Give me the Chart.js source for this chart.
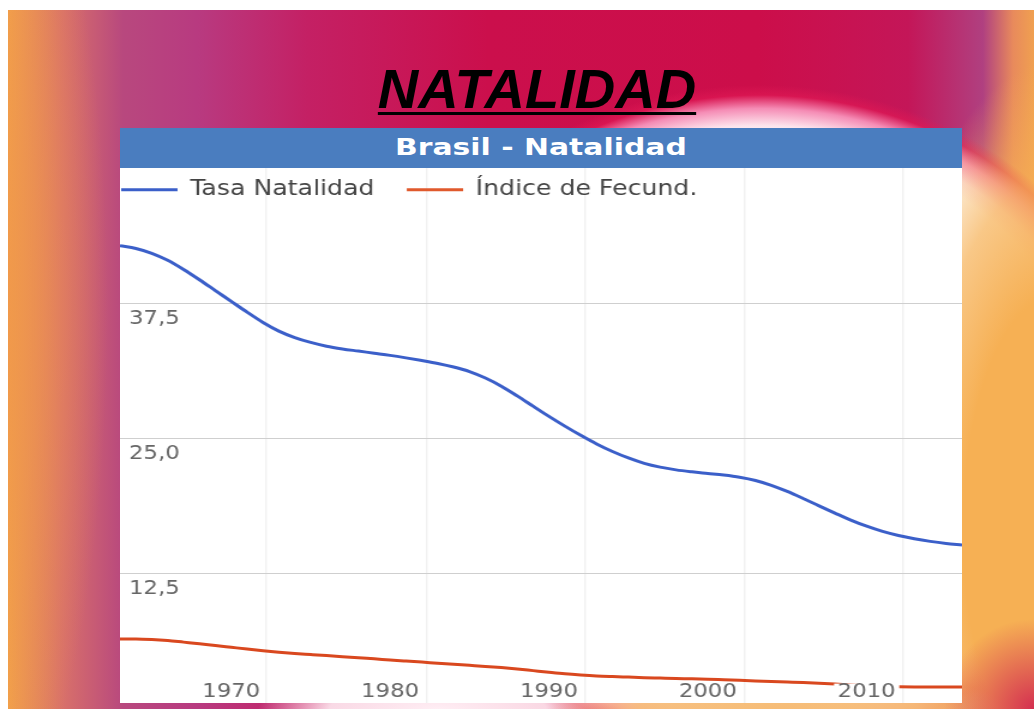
<!DOCTYPE html>
<html lang="es">
<head>
<meta charset="utf-8">
<title>Natalidad</title>
<script src="https://cdn.jsdelivr.net/npm/chart.js@4.4.1/dist/chart.umd.min.js"></script>
<style>
  html, body { margin: 0; padding: 0; background: #fff; }
  body { width: 1034px; height: 709px; position: relative; overflow: hidden; }
  #fondo {
    position: absolute; left: 8px; top: 10px; width: 1026px; height: 699px;
    background:
      radial-gradient(circle 90px at 1026px 699px, rgba(210,40,80,0.95) 0%, rgba(210,40,80,0) 100%),
      radial-gradient(ellipse 230px 40px at 770px 699px, rgba(246,188,118,1) 0%, rgba(246,188,118,0.9) 60%, rgba(246,188,118,0) 100%),
      radial-gradient(ellipse 180px 40px at 430px 699px, rgba(255,238,244,1) 0%, rgba(255,238,244,0.9) 60%, rgba(255,238,244,0) 100%),
      radial-gradient(ellipse 190px 470px at 1050px 520px, rgba(246,176,84,1) 0%, rgba(246,176,84,1) 50%, rgba(246,176,84,0.7) 75%, rgba(246,176,84,0) 100%),
      radial-gradient(ellipse 390px 335px at 752px 410px, #ffffff 0%, #ffffff 84%, #fde3ec 88%, #f58cb5 93%, rgba(225,25,85,0.6) 97%, rgba(215,15,75,0) 100%),
      radial-gradient(ellipse 120px 520px at -20px 300px, rgba(240,150,75,0.85) 0%, rgba(240,150,75,0) 100%),
      linear-gradient(90deg, #f2a24a 0px, #d8706a 55px, #b8487e 115px, #b83a80 190px, #c42064 300px, #cb0f4c 480px, #cc0e4a 750px, #c41658 900px, #b04080 975px, #e88a5c 1005px, #f0a050 1026px);
  }
  #titulo {
    position: absolute; left: 0; top: 61px; width: 1074px; text-align: center;
    font: italic bold 56px "Liberation Sans", Arial, sans-serif; line-height: 56px; color: #000;
    text-decoration: underline; text-decoration-thickness: 3px; text-underline-offset: 4px;
  }
  #panel {
    position: absolute; left: 120px; top: 128px; width: 842px; height: 575px;
    background: #fff; overflow: hidden;
  }
  #cabecera {
    height: 40px; box-sizing: border-box; padding-bottom: 3px;
    background: #4a7dbf; display: flex; align-items: center; justify-content: center;
  }
  #cabecera span {
    display: inline-block; color: #fff; font: bold 23.5px "DejaVu Sans", sans-serif;
    transform: scaleX(1.27); white-space: nowrap;
  }
  #grafico { display: block; transform: scaleX(1.1994); transform-origin: 0 0; }
</style>
</head>
<body>
<div id="fondo"></div>
<div id="titulo">NATALIDAD</div>
<div id="panel">
  <div id="cabecera"><span>Brasil - Natalidad</span></div>
  <canvas id="grafico" width="702" height="540"></canvas>
</div>
<script>
// Brasil: tasa de natalidad (por mil) e índice de fecundidad (hijos por mujer)
const anios = [1963, 1964, 1965, 1966, 1967, 1968, 1969, 1970, 1971, 1972,
  1973, 1974, 1975, 1976, 1977, 1978, 1979, 1980, 1981, 1982,
  1983, 1984, 1985, 1986, 1987, 1988, 1989, 1990, 1991, 1992,
  1993, 1994, 1995, 1996, 1997, 1998, 1999, 2000, 2001, 2002,
  2003, 2004, 2005, 2006, 2007, 2008, 2009, 2010, 2011, 2012,
  2013, 2014, 2015, 2016];

const tasaNatalidad = [42.8, 42.55, 42.1, 41.45, 40.6, 39.65, 38.65, 37.65, 36.65, 35.7,
  34.9, 34.3, 33.85, 33.5, 33.25, 33.05, 32.85, 32.65, 32.42, 32.17,
  31.9, 31.57, 31.15, 30.55, 29.8, 28.9, 27.95, 27.0, 26.1, 25.25,
  24.45, 23.75, 23.15, 22.65, 22.3, 22.05, 21.87, 21.72, 21.57, 21.37,
  21.07, 20.62, 20.05, 19.4, 18.72, 18.05, 17.4, 16.83, 16.35, 15.97,
  15.67, 15.43, 15.24, 15.1];

const indiceFecundidad = [6.4, 6.4, 6.35, 6.25, 6.1, 5.95, 5.78, 5.62, 5.46, 5.31,
  5.17, 5.05, 4.95, 4.85, 4.75, 4.65, 4.55, 4.45, 4.35, 4.25,
  4.15, 4.05, 3.95, 3.85, 3.74, 3.61, 3.46, 3.31, 3.17, 3.06,
  2.97, 2.91, 2.86, 2.81, 2.77, 2.73, 2.7, 2.66, 2.61, 2.56,
  2.51, 2.46, 2.41, 2.36, 2.3, 2.22, 2.13, 2.05, 1.99, 1.96,
  1.95, 1.95, 1.95, 1.95];

const aniosEtiquetados = [1970, 1980, 1990, 2000, 2010];
const marcasY = [12.5, 25, 37.5];

const puntos = (serie) => anios.map((a, i) => ({ x: a, y: serie[i] }));

// The legend sits on top of the plot area instead of taking space above it
const leyendaSobrePlot = {
  id: 'leyendaSobrePlot',
  beforeLayout(chart) {
    const lg = chart.legend;
    if (!lg || lg._sinAltura) return;
    const fit = lg.fit;
    lg.fit = function () { fit.call(this); this._alturaReal = this.height; this.height = 0; };
    lg._sinAltura = true;
  },
  afterLayout(chart, args, opts) {
    const lg = chart.legend;
    const pad = lg.options.labels.padding;
    const fs = Chart.helpers.toFont(lg.options.labels.font).size;
    const area = chart.chartArea;
    lg.left = area.left + opts.x - pad;
    lg.right = lg.left + lg.width;
    lg.top = area.top + opts.y - pad - fs / 2;
    lg.bottom = lg.top + lg._alturaReal;
  }
};

// Axes drawn inside the plot: they take no room and add no edge padding
const sinEspacio = (scale) => {
  if (scale.isHorizontal()) scale.height = 0; else scale.width = 0;
  scale.paddingTop = scale.paddingBottom = scale.paddingLeft = scale.paddingRight = 0;
};

const fuenteEjes = { family: '"DejaVu Sans", sans-serif', size: 19 };

new Chart(document.getElementById('grafico'), {
  type: 'line',
  data: {
    datasets: [
      {
        label: 'Tasa Natalidad',
        data: puntos(tasaNatalidad),
        borderColor: '#3b5fc9',
        backgroundColor: '#3b5fc9',
        borderWidth: 3,
        pointRadius: 0,
        cubicInterpolationMode: 'monotone'
      },
      {
        label: 'Índice de Fecund.',
        data: puntos(indiceFecundidad),
        borderColor: '#d9481f',
        backgroundColor: '#e0592c',
        borderWidth: 3,
        pointRadius: 0,
        cubicInterpolationMode: 'monotone'
      }
    ]
  },
  options: {
    responsive: false,
    animation: false,
    events: [],
    layout: { padding: 0 },
    plugins: {
      tooltip: { enabled: false },
      leyendaSobrePlot: { x: 1, y: 21.7 },
      legend: {
        position: 'top',
        align: 'start',
        labels: {
          boxWidth: 47,
          boxHeight: 3,
          padding: 27,
          color: '#444',
          font: { family: '"DejaVu Sans", sans-serif', size: 21 },
          generateLabels(chart) {
            return Chart.defaults.plugins.legend.labels.generateLabels(chart)
              .map(l => Object.assign(l, { lineWidth: 0 }));
          }
        }
      }
    },
    scales: {
      x: {
        type: 'linear',
        position: 'bottom',
        min: 1963,
        max: 2016,
        grid: { display: false, drawTicks: false },
        border: { display: false },
        afterBuildTicks(scale) { scale.ticks = aniosEtiquetados.map(v => ({ value: v })); },
        afterFit: sinEspacio,
        ticks: {
          mirror: true,
          padding: 4.6,
          z: 1,
          autoSkip: false,
          maxRotation: 0,
          color: '#666',
          font: fuenteEjes,
          showLabelBackdrop: true,
          backdropColor: '#ffffff',
          backdropPadding: { top: -3, bottom: 0, left: 3, right: 3 },
          callback: (v) => String(v)
        }
      },
      xg: {
        type: 'linear',
        position: 'bottom',
        min: 1963,
        max: 2016,
        grid: { color: 'rgba(0,0,0,0.055)', lineWidth: 1.5, drawTicks: false },
        border: { display: false },
        ticks: { display: false },
        afterBuildTicks(scale) {
          scale.ticks = [1972.2, 1982.3, 1992.3, 2002.3, 2012.3].map(v => ({ value: v }));
        },
        afterFit: sinEspacio
      },
      y: {
        type: 'linear',
        position: 'left',
        min: 0,
        max: 50,
        grid: { color: '#cfcfcf', lineWidth: 1, drawTicks: false },
        border: { display: false },
        afterBuildTicks(scale) { scale.ticks = marcasY.map(v => ({ value: v })); },
        afterFit: sinEspacio,
        ticks: {
          mirror: true,
          padding: 7.5,
          labelOffset: 16,
          color: '#666',
          font: fuenteEjes,
          callback: (v) => v.toFixed(1).replace('.', ',')
        }
      }
    }
  },
  plugins: [leyendaSobrePlot]
});
</script>
</body>
</html>
